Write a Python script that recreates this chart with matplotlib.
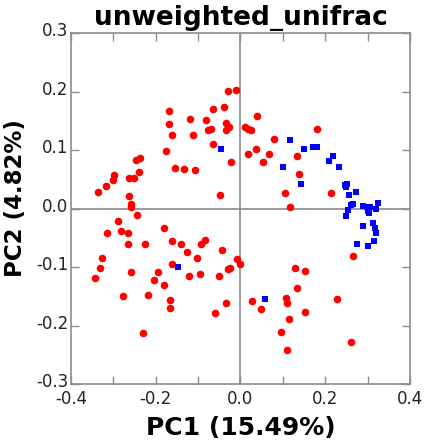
import numpy as np
import matplotlib.pyplot as plt
import matplotlib.transforms as mtransforms
from matplotlib.ticker import MultipleLocator

plt.rcParams['axes.unicode_minus'] = False

# red group (circles)
red_x = [-0.335, -0.317, -0.300, -0.298, -0.262, -0.251, -0.239, -0.246, -0.237, -0.263,
         -0.258, -0.258, -0.176, -0.169, -0.168, -0.162, -0.154, -0.133, -0.119, -0.113,
         -0.106, -0.081, -0.077, -0.070, -0.064, -0.064, -0.047, -0.039, -0.035, -0.033,
         -0.026, -0.030, -0.011, -0.023, 0.011, 0.018, 0.026, 0.018, 0.040, 0.037,
         0.054, 0.068, 0.079, 0.180, 0.134, 0.139, 0.106, 0.117, 0.214,
         0.266, -0.009, -0.001, -0.025, 0.129, 0.152, 0.134, 0.028, 0.048, 0.107, 0.111,
         0.152, 0.114, 0.228, 0.096, 0.109, 0.261,
         -0.288, -0.282, -0.314, -0.265, -0.265, -0.245, -0.327, -0.331, -0.343, -0.257,
         -0.278, -0.225, -0.217, -0.203, -0.194, -0.180, -0.180, -0.162, -0.162, -0.165,
         -0.165, -0.141, -0.127, -0.121, -0.102, -0.096, -0.093, -0.084, -0.044, -0.050,
         -0.030, -0.035, -0.060, -0.231]
red_y = [0.028, 0.039, 0.049, 0.057, 0.053, 0.053, 0.063, 0.083, 0.087, 0.022,
         0.008, 0.002, 0.099, 0.167, 0.144, 0.126, 0.070, 0.068, 0.153, 0.126,
         0.066, 0.151, 0.134, 0.136, 0.170, 0.111, 0.024, 0.174, 0.146, 0.135,
         0.140, 0.201, 0.203, 0.080, 0.139, 0.136, 0.134, 0.093, 0.159, 0.101,
         0.080, 0.094, 0.119, 0.136, 0.090, 0.059, 0.026, 0.002, 0.026,
         -0.081, -0.086, -0.094, -0.102, -0.101, -0.107, -0.136, -0.158, -0.171, -0.152, -0.161,
         -0.176, -0.188, -0.155, -0.211, -0.242, -0.228,
         -0.021, -0.038, -0.041, -0.042, -0.060, -0.011, -0.084, -0.101, -0.118, -0.109,
         -0.149, -0.061, -0.147, -0.122, -0.109, -0.034, -0.130, -0.056, -0.095, -0.156,
         -0.170, -0.061, -0.075, -0.115, -0.084, -0.111, -0.060, -0.054, -0.070, -0.115,
         -0.103, -0.161, -0.178, -0.213]

# blue group (squares)
blue_x = [-0.046, 0.118, 0.150, 0.172, 0.180, 0.101, 0.143, 0.209, 0.219, 0.233,
          0.246, 0.252, 0.250, 0.257, 0.272, 0.262, 0.266, 0.290, 0.298, 0.305,
          0.325, 0.250, 0.254, 0.301, 0.304, 0.321, 0.290, 0.313, 0.317, 0.319,
          0.276, 0.300, 0.316, 0.058, -0.147]
blue_y = [0.102, 0.117, 0.102, 0.106, 0.106, 0.071, 0.042, 0.081, 0.090, 0.071,
          0.040, 0.042, 0.037, 0.023, 0.029, 0.006, 0.008, 0.005, 0.003, 0.003,
          0.009, -0.012, -0.003, -0.005, -0.008, -0.001, -0.029, -0.025, -0.034, -0.041,
          -0.060, -0.064, -0.056, -0.155, -0.100]

fig = plt.figure(figsize=(4.27, 4.40), dpi=100)
ax = fig.add_axes([0.166, 0.127, 0.794, 0.798])

ax.axhline(0, color='#8c8c8c', lw=1.2, zorder=1)
ax.axvline(0, color='#8c8c8c', lw=1.2, zorder=1)

ax.scatter(red_x, red_y, s=30, c='#ff0000', marker='o', linewidths=0, zorder=3)
ax.scatter(blue_x, blue_y, s=14, c='#0000ff', marker='s', linewidths=0, zorder=3)

ax.set_xlim(-0.4, 0.4)
ax.set_ylim(-0.3, 0.3)
ax.xaxis.set_major_locator(MultipleLocator(0.2))
ax.xaxis.set_minor_locator(MultipleLocator(0.1))
ax.yaxis.set_major_locator(MultipleLocator(0.1))
ax.tick_params(which='both', direction='in', top=True, right=True, color='#8c8c8c',
               length=6, width=1, labelsize=12, labelcolor='#222222')
ax.tick_params(axis='x', pad=4)
ax.tick_params(axis='y', pad=2)
for s in ax.spines.values():
    s.set_color('#8c8c8c')
    s.set_linewidth(1.2)

# y tick labels sit a little above their ticks in the original
offset = mtransforms.ScaledTranslation(0, 4 / 100, fig.dpi_scale_trans)
for lbl in ax.get_yticklabels():
    lbl.set_transform(lbl.get_transform() + offset)

ax.set_title('unweighted_unifrac', fontsize=19, fontweight='bold', pad=6)
ax.set_xlabel('PC1 (15.49%)', fontsize=18, fontweight='bold', labelpad=6)
ax.set_ylabel('PC2 (4.82%)', fontsize=16.5, fontweight='bold')
ax.yaxis.set_label_coords(-0.13, 0.53)

fig.savefig('out.png', dpi=100)
